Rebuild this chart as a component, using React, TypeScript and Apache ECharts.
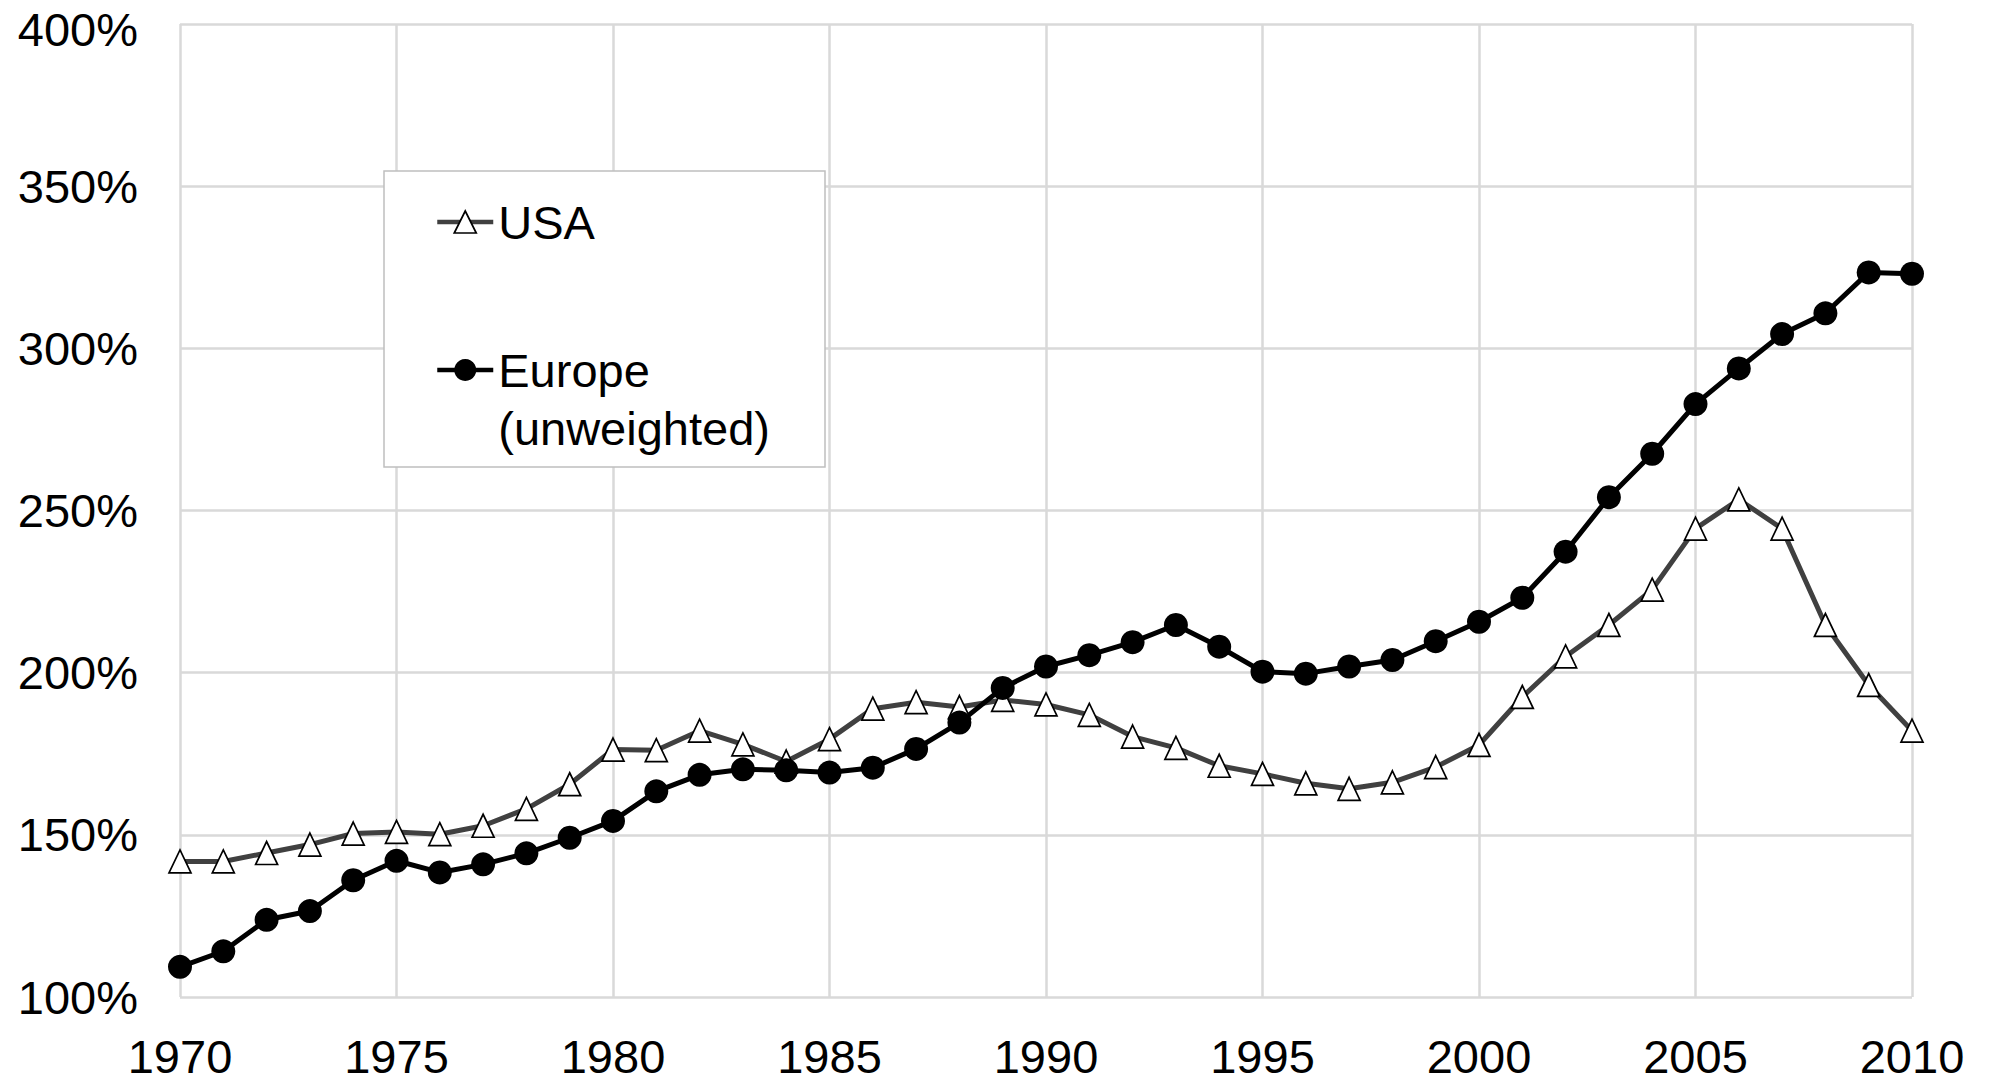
import React, { useEffect, useRef } from "react";
import * as echarts from "echarts";

const years = [
  1970, 1971, 1972, 1973, 1974, 1975, 1976, 1977, 1978, 1979,
  1980, 1981, 1982, 1983, 1984, 1985, 1986, 1987, 1988, 1989,
  1990, 1991, 1992, 1993, 1994, 1995, 1996, 1997, 1998, 1999,
  2000, 2001, 2002, 2003, 2004, 2005, 2006, 2007, 2008, 2009, 2010,
];

const usaValues = [
  141.8, 141.8, 144.4, 147.0, 150.4, 150.9, 150.2, 152.8, 158.0, 165.6,
  176.3, 176.1, 182.1, 177.9, 172.6, 179.5, 188.9, 190.9, 189.4, 191.6,
  190.2, 187.0, 180.3, 176.8, 171.3, 168.8, 165.9, 164.2, 166.2, 170.9,
  177.7, 192.5, 205.0, 214.7, 225.6, 244.4, 253.4, 244.4, 214.7, 196.2, 182.1,
];

const europeValues = [
  109.3, 114.1, 123.8, 126.5, 136.0, 142.0, 138.4, 140.9, 144.3, 149.1,
  154.3, 163.4, 168.5, 170.2, 169.9, 169.2, 170.7, 176.5, 184.6, 195.3,
  201.9, 205.4, 209.4, 214.7, 208.0, 200.3, 199.7, 201.9, 203.9, 209.7,
  215.7, 223.1, 237.3, 254.1, 267.5, 282.8, 293.8, 304.4, 310.8, 323.4, 323.0,
];

const seriesNames = ["USA", "Europe (unweighted)"];

const FONT = "'Liberation Sans', Arial, sans-serif";

export default function App() {
  const ref = useRef<HTMLDivElement>(null);

  useEffect(() => {
    if (!ref.current) return;
    const chart = echarts.init(ref.current, null, { renderer: "svg" });
    const usaData = years.map((y, i) => [y, usaValues[i]]);
    const euData = years.map((y, i) => [y, europeValues[i]]);

    chart.setOption({
      animation: false,
      backgroundColor: "#ffffff",
      textStyle: { fontFamily: FONT },
      grid: {
        left: 180,
        right: 77,
        top: 24,
        bottom: 85,
        containLabel: false,
        outerBoundsMode: "none",
      },
      xAxis: {
        type: "value",
        min: 1970,
        max: 2010,
        interval: 5,
        axisLine: { show: false },
        axisTick: { show: false },
        axisLabel: {
          color: "#000",
          fontSize: 47,
          fontFamily: FONT,
          margin: 36,
          formatter: (v: number) => String(v),
        },
        splitLine: { show: true, lineStyle: { color: "#d9d9d9", width: 2.5 } },
      },
      yAxis: {
        type: "value",
        min: 100,
        max: 400,
        interval: 50,
        axisLine: { show: false },
        axisTick: { show: false },
        axisLabel: {
          color: "#000",
          fontSize: 47,
          fontFamily: FONT,
          margin: 42,
          formatter: (v: number) => (v === 400 ? "{t|" + v + "%}" : v + "%"),
          rich: {
            t: {
              color: "#000",
              fontSize: 47,
              fontFamily: FONT,
              padding: [10, 0, 0, 0],
            },
          },
        },
        splitLine: { show: true, lineStyle: { color: "#d9d9d9", width: 2.5 } },
      },
      graphic: [
        {
          type: "rect",
          z: 3,
          shape: { x: 384, y: 171, width: 441, height: 296 },
          style: { fill: "#ffffff", stroke: "#bfbfbf", lineWidth: 1.5 },
        },
      ],
      legend: {
        orient: "vertical",
        left: 435,
        top: 193,
        padding: 0,
        itemWidth: 56,
        itemHeight: 27.5,
        itemGap: 32,
        selectedMode: false,
        lineStyle: { width: 4.5 },
        textStyle: {
          fontSize: 47,
          lineHeight: 58,
          color: "#000",
          fontFamily: FONT,
        },
        formatter: (name: string) =>
          name === seriesNames[1] ? "\nEurope\n(unweighted)" : name,
        data: [
          {
            name: seriesNames[0],
            lineStyle: { width: 4.5, color: "#404040" },
            itemStyle: { color: "#ffffff", borderColor: "#000000", borderWidth: 1.7 },
          },
          {
            name: seriesNames[1],
            lineStyle: { width: 4.5, color: "#000000" },
            itemStyle: { color: "#000000", borderWidth: 0 },
          },
        ],
      },
      series: [
        {
          name: seriesNames[0],
          type: "line",
          data: usaData,
          symbol: "triangle",
          symbolSize: [22, 23],
          showAllSymbol: true,
          lineStyle: { color: "#404040", width: 5 },
          itemStyle: { color: "#ffffff", borderColor: "#000000", borderWidth: 1.7 },
          emphasis: { disabled: true },
        },
        {
          name: seriesNames[1],
          type: "line",
          data: euData,
          symbol: "circle",
          symbolSize: 24,
          showAllSymbol: true,
          lineStyle: { color: "#000000", width: 5 },
          itemStyle: { color: "#000000", borderColor: "#000000", borderWidth: 0 },
          emphasis: { disabled: true },
        },
      ],
    });

    return () => chart.dispose();
  }, []);

  return (
    <div
      ref={ref}
      style={{
        position: "fixed",
        left: 0,
        top: 0,
        width: 1989,
        height: 1082,
        background: "#fff",
      }}
    />
  );
}
